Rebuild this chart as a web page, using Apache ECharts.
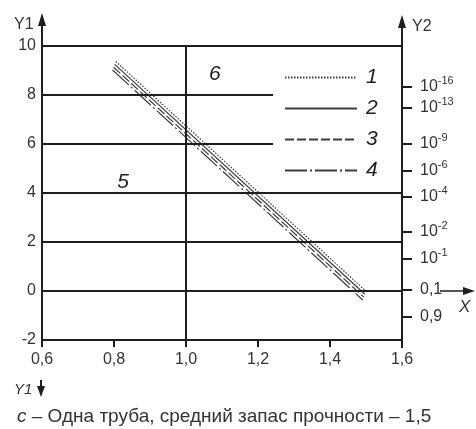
<!DOCTYPE html>
<html><head><meta charset="utf-8">
<script src="https://cdn.jsdelivr.net/npm/echarts@6/dist/echarts.min.js"></script>
<style>html,body{margin:0;padding:0;background:#fff}#c{width:476px;height:429px}</style>
</head><body><div id="c"></div>
<script>
// ---- data ----
const xTicks = [0.6, 0.8, 1.0, 1.2, 1.4, 1.6];
const y1Ticks = [-2, 0, 2, 4, 6, 8, 10];
const y2TickPos = [8.33, 7.47, 6.0, 4.9, 3.84, 2.41, 1.31, 0.05, -1.06];
const y2TickBase = ['10', '10', '10', '10', '10', '10', '10', '0,1', '0,9'];
const y2TickExp = ['-16', '-13', '-9', '-6', '-4', '-2', '-1', '', ''];
const seriesNames = ['1', '2', '3', '4'];
const line1 = [[0.805, 9.37], [1.500, -0.01]];
const line2 = [[0.802, 9.25], [1.497, -0.13]];
const line3 = [[0.799, 9.13], [1.494, -0.25]];
const line4 = [[0.796, 9.02], [1.491, -0.37]];
const fullGridY = [10, 4, 2, 0];
const partialGridY = [8, 6];
const partialGridEndX = 1.242;
const verticalGridX = [1.0];
const regionLabels = ['5', '6'];
const regionLabelX = [0.825, 1.08];
const regionLabelY = [4.46, 8.84];
const captionLetter = 'с';
const caption = ' – Одна труба, средний запас прочности – 1,5';

const FONT = '"Liberation Sans", Arial, sans-serif';
const INK = '#1e1e1e';
const LINEC = '#3c3c3c';
const dashes = [[1.5, 1.5], 'solid', [9, 3], [22, 3, 2, 3]];
const lines = [line1, line2, line3, line4];

const chart = echarts.init(document.getElementById('c'), null, {renderer: 'canvas'});

const gridMark = [];
fullGridY.forEach(y => gridMark.push({yAxis: y}));
partialGridY.forEach(y => gridMark.push([{coord: [xTicks[0], y]}, {coord: [partialGridEndX, y]}]));
verticalGridX.forEach(x => gridMark.push({xAxis: x}));

function fmtComma(v) { return v.toFixed(1).replace('.', ','); }

const series = lines.map((d, i) => ({
  name: seriesNames[i], type: 'line', data: d, symbol: 'none', silent: true, color: LINEC,
  itemStyle: {color: LINEC},
  lineStyle: {color: LINEC, width: 1.2, type: dashes[i]}, z: 3
}));
series.push({
  name: 'grid', type: 'line', data: [], silent: true, z: 2,
  markLine: {silent: true, symbol: 'none', label: {show: false},
    lineStyle: {color: INK, width: 2, type: 'solid'}, data: gridMark}
});

chart.setOption({
  animation: false,
  backgroundColor: '#fff',
  grid: {left: 42, right: 74, top: 46, bottom: 89},
  legend: {
    data: seriesNames, orient: 'vertical', left: 279, top: 62,
    itemWidth: 72, itemHeight: 20, itemGap: 10, selectedMode: false,
    itemStyle: {opacity: 0},
    textStyle: {fontFamily: FONT, fontSize: 21, lineHeight: 20, fontStyle: 'italic', color: INK, padding: [0, 0, 0, 4]}
  },
  xAxis: {
    type: 'value', min: xTicks[0], max: xTicks[xTicks.length - 1], interval: 0.2,
    axisLine: {show: true, onZero: false, lineStyle: {color: INK, width: 2}},
    axisTick: {show: true, inside: false, length: 7, lineStyle: {color: INK, width: 2}},
    axisLabel: {margin: 12, fontFamily: FONT, fontSize: 16, color: '#333', formatter: v => fmtComma(v)},
    splitLine: {show: false}
  },
  yAxis: [{
    type: 'value', min: y1Ticks[0], max: y1Ticks[y1Ticks.length - 1], interval: 2, position: 'left',
    axisLine: {show: true, onZero: false, lineStyle: {color: INK, width: 2}},
    axisTick: {show: false},
    axisLabel: {margin: 6, fontFamily: FONT, fontSize: 16, color: '#333'},
    splitLine: {show: false}
  }, {
    type: 'value', min: y1Ticks[0], max: y1Ticks[y1Ticks.length - 1], position: 'right',
    axisLine: {show: true, onZero: false, lineStyle: {color: INK, width: 2}},
    axisTick: {show: true, inside: false, length: 10, customValues: y2TickPos, lineStyle: {color: INK, width: 2}},
    axisLabel: {
      margin: 18, fontFamily: FONT, fontSize: 16, color: '#333', customValues: y2TickPos,
      formatter: function (v) {
        let best = 0, bd = 1e9;
        y2TickPos.forEach((p, i) => { const d = Math.abs(p - v); if (d < bd) { bd = d; best = i; } });
        return y2TickExp[best] ? y2TickBase[best] + '{s|' + y2TickExp[best] + '}' : y2TickBase[best];
      },
      rich: {s: {fontFamily: FONT, fontSize: 11, color: '#333', verticalAlign: 'top', padding: [0, 0, 12, 0]}}
    },
    splitLine: {show: false}
  }],
  series: series
});

function px(x, y) { return chart.convertToPixel({xAxisIndex: 0, yAxisIndex: 0}, [x, y]); }
const pTL = px(xTicks[0], y1Ticks[y1Ticks.length - 1]);
const pBL = px(xTicks[0], y1Ticks[0]);
const pTR = px(xTicks[xTicks.length - 1], y1Ticks[y1Ticks.length - 1]);
const pBR = px(xTicks[xTicks.length - 1], y1Ticks[0]);
const pZeroR = px(xTicks[xTicks.length - 1], 0);

const lineSt = {stroke: INK, lineWidth: 2};
const g = [];
g.push({type: 'line', shape: {x1: pTL[0], y1: pTL[1], x2: pTL[0], y2: 22}, style: lineSt, silent: true});
g.push({type: 'line', shape: {x1: pBL[0], y1: pBL[1], x2: pBL[0], y2: pBL[1] + 7}, style: lineSt, silent: true});
g.push({type: 'polygon', shape: {points: [[pTL[0], 13], [pTL[0] - 4, 26], [pTL[0] + 4, 26]]}, style: {fill: INK}, silent: true});
g.push({type: 'line', shape: {x1: pTR[0], y1: pTR[1], x2: pTR[0], y2: 24}, style: lineSt, silent: true});
g.push({type: 'line', shape: {x1: pBR[0], y1: pBR[1], x2: pBR[0], y2: pBR[1] + 8}, style: lineSt, silent: true});
g.push({type: 'polygon', shape: {points: [[pTR[0], 15], [pTR[0] - 4, 28], [pTR[0] + 4, 28]]}, style: {fill: INK}, silent: true});
g.push({type: 'text', left: 14, top: 17, style: {text: 'Y1', fontFamily: FONT, fontSize: 16, fill: '#333'}, silent: true});
g.push({type: 'text', left: 412, top: 19, style: {text: 'Y2', fontFamily: FONT, fontSize: 16, fill: '#333'}, silent: true});
g.push({type: 'text', left: 14, top: 382, style: {text: 'Y1', fontFamily: FONT, fontSize: 15, fontStyle: 'italic', fill: '#333'}, silent: true});
g.push({type: 'line', shape: {x1: 41, y1: 380, x2: 41, y2: 388}, style: lineSt, silent: true});
g.push({type: 'polygon', shape: {points: [[41, 397], [37, 386], [45, 386]]}, style: {fill: INK}, silent: true});
g.push({type: 'line', shape: {x1: 440, y1: pZeroR[1], x2: 466, y2: pZeroR[1]}, style: {stroke: INK, lineWidth: 1.5}, silent: true});
g.push({type: 'polygon', shape: {points: [[475, pZeroR[1]], [463, pZeroR[1] - 4], [463, pZeroR[1] + 4]]}, style: {fill: INK}, silent: true});
g.push({type: 'text', left: 459, top: 299, style: {text: 'X', fontFamily: FONT, fontSize: 17, fontStyle: 'italic', fill: '#333'}, silent: true});
regionLabels.forEach((t, i) => {
  const p = px(regionLabelX[i], regionLabelY[i]);
  g.push({type: 'text', x: p[0], y: p[1], style: {text: t, fontFamily: FONT, fontSize: 21, fontStyle: 'italic', fill: INK, align: 'center', verticalAlign: 'middle'}, silent: true});
});
g.push({type: 'text', left: 17, top: 407, style: {
  text: '{i|' + captionLetter + '}' + caption, fontFamily: FONT, fontSize: 19, fill: '#333',
  rich: {i: {fontFamily: FONT, fontSize: 19, fontStyle: 'italic', fill: '#333'}}
}, silent: true});

chart.setOption({graphic: g});
</script>
</body></html>
